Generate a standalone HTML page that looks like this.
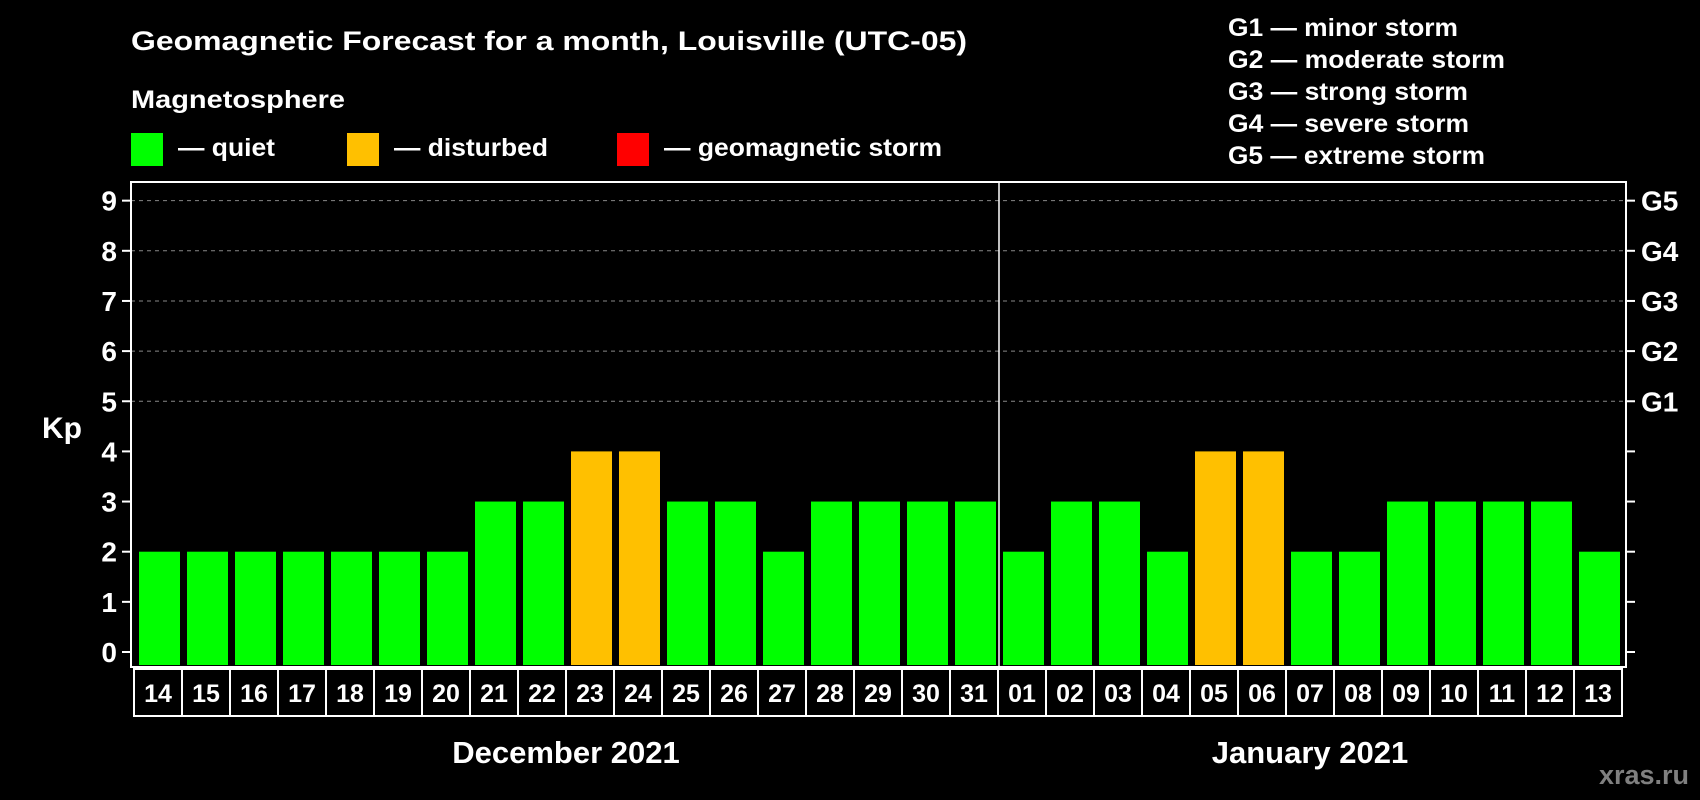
<!DOCTYPE html>
<html><head><meta charset="utf-8"><style>
html,body{margin:0;padding:0;background:#000;}
svg{display:block;font-family:"Liberation Sans",Arial,sans-serif;font-weight:bold;}
</style></head><body>
<svg id="chart" width="1700" height="800" viewBox="0 0 1700 800">
<text x="131" y="50" fill="#fff" font-size="27" textLength="836" lengthAdjust="spacingAndGlyphs">Geomagnetic Forecast for a month, Louisville (UTC-05)</text>
<text x="131" y="108" fill="#fff" font-size="25" textLength="214" lengthAdjust="spacingAndGlyphs">Magnetosphere</text>
<g><rect x="131" y="133" width="32" height="33" fill="#00ff00"/><text x="178" y="156" fill="#fff" font-size="25" textLength="97" lengthAdjust="spacingAndGlyphs">— quiet</text></g>
<g><rect x="347" y="133" width="32" height="33" fill="#ffc000"/><text x="394" y="156" fill="#fff" font-size="25" textLength="154" lengthAdjust="spacingAndGlyphs">— disturbed</text></g>
<g><rect x="617" y="133" width="32" height="33" fill="#ff0000"/><text x="664" y="156" fill="#fff" font-size="25" textLength="278" lengthAdjust="spacingAndGlyphs">— geomagnetic storm</text></g>
<g fill="#fff" font-size="25">
<text x="1228" y="36" textLength="230" lengthAdjust="spacingAndGlyphs">G1 — minor storm</text>
<text x="1228" y="68" textLength="277" lengthAdjust="spacingAndGlyphs">G2 — moderate storm</text>
<text x="1228" y="100" textLength="240" lengthAdjust="spacingAndGlyphs">G3 — strong storm</text>
<text x="1228" y="132" textLength="241" lengthAdjust="spacingAndGlyphs">G4 — severe storm</text>
<text x="1228" y="164" textLength="257" lengthAdjust="spacingAndGlyphs">G5 — extreme storm</text>
</g>
<text x="42" y="438" fill="#fff" font-size="30">Kp</text>
<text x="1689" y="784" fill="#808080" font-size="27" text-anchor="end">xras.ru</text>
<g id="plot"></g>
</svg>
<script>
const days=["14","15","16","17","18","19","20","21","22","23","24","25","26","27","28","29","30","31","01","02","03","04","05","06","07","08","09","10","11","12","13"];
const kp=[2,2,2,2,2,2,2,3,3,4,4,3,3,2,3,3,3,3,2,3,3,2,4,4,2,2,3,3,3,3,2];
const yTicks=[0,1,2,3,4,5,6,7,8,9];
const gLabels=["G1","G2","G3","G4","G5"];
const months=["December 2021","January 2021"];
const monthDayCount=[18,13];

const NS="http://www.w3.org/2000/svg";
const g=document.getElementById('plot');
const L=131,R=1626,T=182,B=667,y0=652,unit=50.15,x0=134,pitch=48.0,bw=41;
const y=v=>y0-v*unit;
const x=i=>x0+i*pitch;
function mk(tag,attrs){const e=document.createElementNS(NS,tag);for(const k in attrs)e.setAttribute(k,attrs[k]);g.appendChild(e);return e;}
yTicks.forEach(v=>{
  if(v>=5){const gl=mk('line',{x1:L,x2:R,y1:y(v),y2:y(v),stroke:'#888','stroke-dasharray':'4,4','stroke-width':1});
  
  }
  mk('line',{x1:L-9,x2:L,y1:y(v),y2:y(v),stroke:'#fff','stroke-width':2});
  mk('line',{x1:R,x2:R+9,y1:y(v),y2:y(v),stroke:'#fff','stroke-width':2});
  const t=mk('text',{x:L-14,y:y(v)+10,fill:'#fff','font-size':28,'text-anchor':'end'});t.textContent=v;
  
  
});
gLabels.forEach((s,i)=>{
  const t=mk('text',{x:R+15,y:y(5+i)+10,fill:'#fff','font-size':28});t.textContent=s;
  
  
});
kp.forEach((v,i)=>{
  const r=mk('rect',{x:x(i)+5,y:y(v),width:bw,height:10,fill:v>=5?'#ff0000':(v>=4?'#ffc000':'#00ff00')});
  r.setAttribute('height',(B-2)-y(v));
  
  
  const bx=mk('rect',{x:x(i),y:669,width:pitch,height:47,fill:'none',stroke:'#fff','stroke-width':2});
  
  
  const t=mk('text',{x:x(i)+pitch/2,y:702,fill:'#fff','font-size':25,'text-anchor':'middle'});t.textContent=days[i];
  
  
});
const fr=mk('rect',{x:L,y:T,width:R-L,height:B-T,fill:'none',stroke:'#fff','stroke-width':2});


const dx=x(monthDayCount[0])+1;
const dv=mk('line',{x1:dx,x2:dx,y1:T,y2:B,stroke:'#fff','stroke-width':1.5});


let start=0;
months.forEach((m,i)=>{
  const n=monthDayCount[i];
  const cx=(x(start)+x(start+n))/2;
  const t=mk('text',{x:cx,y:763,fill:'#fff','font-size':31,'text-anchor':'middle'});t.textContent=m;
  
  
  start+=n;
});
</script>
</body></html>
